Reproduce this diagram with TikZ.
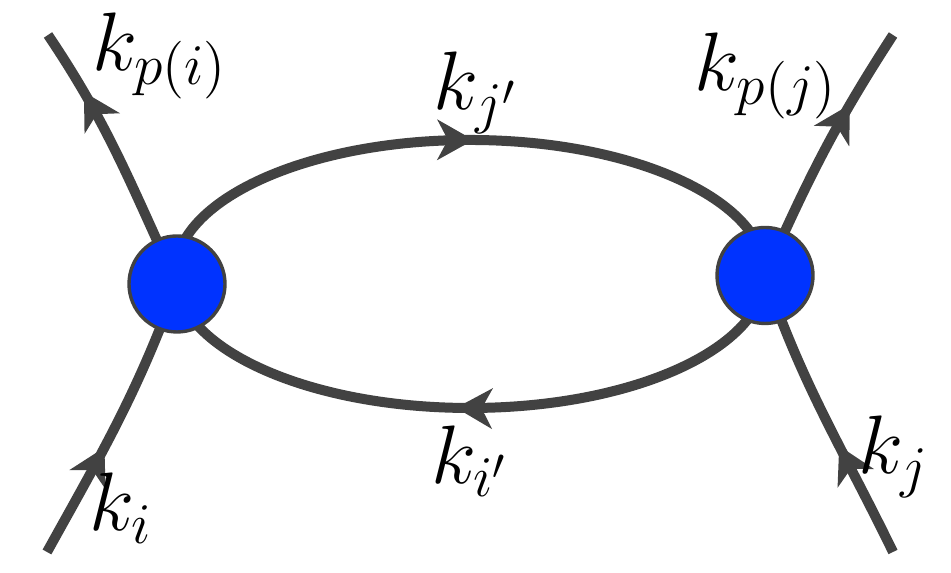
\documentclass[tikz,border=0pt]{standalone}
\usetikzlibrary{arrows.meta,decorations.markings,backgrounds}
\definecolor{linegray}{RGB}{66,66,66}
\definecolor{vblue}{RGB}{0,51,255}
\tikzset{
  prop/.style={draw=linegray, line width=2.5pt},
  arrowat/.style={postaction={decorate}, decoration={markings,
     mark=at position #1 with {\arrow[linegray]{Stealth[length=9pt,width=10pt,inset=2.6pt]}}}},
  vtx/.style={circle, draw=linegray, fill=vblue, line width=0.85pt, minimum size=24pt, inner sep=0pt},
  lbl/.style={inner sep=0pt, font=\fontsize{21.5}{24}\selectfont},
}
\begin{document}
\begin{tikzpicture}[x=0.25pt,y=0.25pt]
\useasboundingbox (0,0) rectangle (951,573);
\node[vtx] (L) at (177,289) {};
\node[vtx] (R) at (765,297.5) {};
\coordinate (C) at (470,299);
\coordinate (pi) at (48,538);
\coordinate (i0) at (47,21);
\coordinate (pj) at (893,538);
\coordinate (j0) at (893,21);
\begin{scope}[on background layer]
  \draw[prop, arrowat=0.505] (C) ++(180:295 and 134) arc[start angle=180, end angle=0, x radius=295, y radius=134];
  \draw[prop, arrowat=0.52] (C) ++(0:295 and 134) arc[start angle=0, end angle=-180, x radius=295, y radius=134];
  \draw[prop, arrowat=0.76] (L.center) to[out=115, in=-56] (pi);
  \draw[prop, arrowat=0.40] (i0) to[out=61, in=-110] (L.center);
  \draw[prop, arrowat=0.70] (R.center) to[out=66, in=-123] (pj);
  \draw[prop, arrowat=0.39] (j0) to[out=116, in=-71] (R.center);
\end{scope}
\node[lbl] (lpi) at (160,517) {$k_{p(i)}$};
\node[lbl] (ljp) at (476,480) {$k_{j'}$};
\node[lbl] (lpj) at (766,497) {$k_{p(j)}$};
\node[lbl] (lip) at (470,112) {$k_{i'}$};
\node[lbl] (li) at (121,65) {$k_i$};
\node[lbl] (lj) at (894,116) {$k_j$};
\end{tikzpicture}
\end{document}
